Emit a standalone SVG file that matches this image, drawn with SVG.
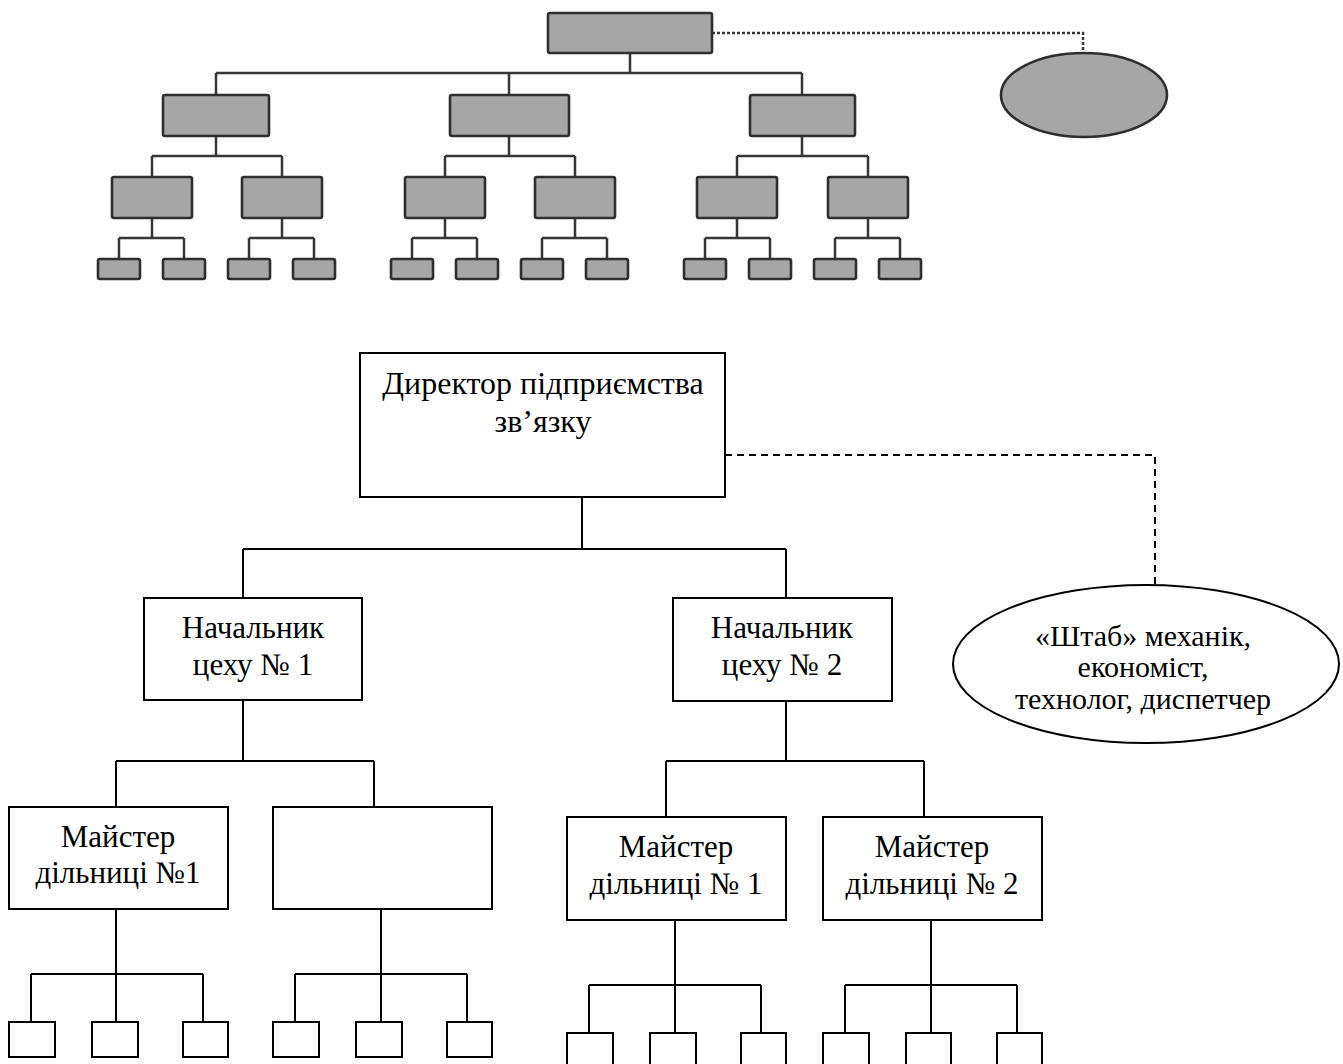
<svg xmlns="http://www.w3.org/2000/svg" width="1343" height="1064" viewBox="0 0 1343 1064">
  <style>
    .gbox { fill: #a6a6a6; stroke: #2e2e2e; stroke-width: 2.6; }
    .gline { fill: none; stroke: #363636; stroke-width: 2.5; }
    .gdot { fill: none; stroke: #363636; stroke-width: 2.5; stroke-dasharray: 3 2; }
    .box { fill: #ffffff; stroke: #000000; stroke-width: 2; }
    .line { fill: none; stroke: #000000; stroke-width: 2; }
    .dash { fill: none; stroke: #000000; stroke-width: 2; stroke-dasharray: 7 5; }
    .lbl { font-family: "Liberation Serif", "Times New Roman", serif; font-size: 31px; fill: #000000; text-anchor: middle; }
    .lg { font-size: 32px; }
    .sm { font-size: 30px; }
  </style>
  <rect width="1343" height="1064" fill="#ffffff"/>

  <!-- Upper schematic: generic line-and-staff structure -->
  <g id="schema-connectors">
    <path class="gline" d="M630,53 V73 M216,73 H802 M216,73 V95 M509,73 V95 M802,73 V95"/>
    <path class="gline" d="M216,136 V156 M152,156 H282 M152,156 V177 M282,156 V177"/>
    <path class="gline" d="M509,136 V156 M445,156 H575 M445,156 V177 M575,156 V177"/>
    <path class="gline" d="M802,136 V156 M737,156 H868 M737,156 V177 M868,156 V177"/>
    <path class="gline" d="M152,218 V238 M119,238 H184 M119,238 V259 M184,238 V259"/>
    <path class="gline" d="M282,218 V238 M249,238 H314 M249,238 V259 M314,238 V259"/>
    <path class="gline" d="M445,218 V238 M412,238 H477 M412,238 V259 M477,238 V259"/>
    <path class="gline" d="M575,218 V238 M542,238 H607 M542,238 V259 M607,238 V259"/>
    <path class="gline" d="M737,218 V238 M705,238 H770 M705,238 V259 M770,238 V259"/>
    <path class="gline" d="M868,218 V238 M835,238 H900 M835,238 V259 M900,238 V259"/>
    <path class="gdot" d="M712,33 H1083 V53"/>
  </g>
  <g id="schema-head"><rect class="gbox" x="548" y="13" width="164" height="40" rx="2"/></g>
  <g id="schema-staff"><ellipse class="gbox" cx="1084" cy="95" rx="83" ry="42"/></g>
  <g id="schema-level2">
    <rect class="gbox" x="163" y="95" width="106" height="41" rx="2"/>
    <rect class="gbox" x="450" y="95" width="119" height="41" rx="2"/>
    <rect class="gbox" x="750" y="95" width="105" height="41" rx="2"/>
  </g>
  <g id="schema-level3">
    <rect class="gbox" x="112" y="177" width="80" height="41" rx="2"/>
    <rect class="gbox" x="242" y="177" width="80" height="41" rx="2"/>
    <rect class="gbox" x="405" y="177" width="80" height="41" rx="2"/>
    <rect class="gbox" x="535" y="177" width="80" height="41" rx="2"/>
    <rect class="gbox" x="697" y="177" width="80" height="41" rx="2"/>
    <rect class="gbox" x="828" y="177" width="80" height="41" rx="2"/>
  </g>
  <g id="schema-level4">
    <rect class="gbox" x="98" y="259" width="42" height="20" rx="2"/>
    <rect class="gbox" x="163" y="259" width="42" height="20" rx="2"/>
    <rect class="gbox" x="228" y="259" width="42" height="20" rx="2"/>
    <rect class="gbox" x="293" y="259" width="42" height="20" rx="2"/>
    <rect class="gbox" x="391" y="259" width="42" height="20" rx="2"/>
    <rect class="gbox" x="456" y="259" width="42" height="20" rx="2"/>
    <rect class="gbox" x="521" y="259" width="42" height="20" rx="2"/>
    <rect class="gbox" x="586" y="259" width="42" height="20" rx="2"/>
    <rect class="gbox" x="684" y="259" width="42" height="20" rx="2"/>
    <rect class="gbox" x="749" y="259" width="42" height="20" rx="2"/>
    <rect class="gbox" x="814" y="259" width="42" height="20" rx="2"/>
    <rect class="gbox" x="879" y="259" width="42" height="20" rx="2"/>
  </g>

  <!-- Lower chart: communications enterprise -->
  <g id="connectors">
    <path class="line" d="M582,497 V549 M243,549 H786 M243,549 V598 M786,549 V598"/>
    <path class="line" d="M243,700 V761 M116,761 H374 M116,761 V807 M374,761 V807"/>
    <path class="line" d="M786,701 V761 M666,761 H924 M666,761 V817 M924,761 V817"/>
    <path class="line" d="M116,909 V974 M31,974 H203 M31,974 V1022 M116,974 V1022 M203,974 V1022"/>
    <path class="line" d="M381,909 V974 M295,974 H467 M295,974 V1022 M381,974 V1022 M467,974 V1022"/>
    <path class="line" d="M675,920 V985 M589,985 H761 M589,985 V1033 M675,985 V1033 M761,985 V1033"/>
    <path class="line" d="M931,920 V985 M845,985 H1017 M845,985 V1033 M931,985 V1033 M1017,985 V1033"/>
    <path class="dash" d="M725,455 H1155 V586"/>
  </g>

  <g id="director">
    <rect class="box" x="360" y="353" width="365" height="144"/>
    <text class="lbl lg" x="543" y="394">Директор підприємства</text>
    <text class="lbl lg" x="543" y="432">зв’язку</text>
  </g>
  <g id="staff">
    <ellipse class="box" cx="1146" cy="664" rx="193" ry="79"/>
    <text class="lbl sm" x="1143" y="646">«Штаб» механік,</text>
    <text class="lbl sm" x="1143" y="677">економіст,</text>
    <text class="lbl sm" x="1143" y="709">технолог, диспетчер</text>
  </g>
  <g id="shop-1">
    <rect class="box" x="144" y="598" width="218" height="102"/>
    <text class="lbl" x="253" y="638">Начальник</text>
    <text class="lbl" x="253" y="675">цеху № 1</text>
  </g>
  <g id="shop-2">
    <rect class="box" x="673" y="598" width="219" height="103"/>
    <text class="lbl" x="782" y="638">Начальник</text>
    <text class="lbl" x="782" y="675">цеху № 2</text>
  </g>
  <g id="foreman-1-1">
    <rect class="box" x="9" y="807" width="219" height="102"/>
    <text class="lbl" x="118" y="847">Майстер</text>
    <text class="lbl" x="118" y="883">дільниці №1</text>
  </g>
  <g id="foreman-1-2">
    <rect class="box" x="273" y="807" width="219" height="102"/>
  </g>
  <g id="foreman-2-1">
    <rect class="box" x="567" y="817" width="219" height="103"/>
    <text class="lbl" x="676" y="857">Майстер</text>
    <text class="lbl" x="676" y="894">дільниці № 1</text>
  </g>
  <g id="foreman-2-2">
    <rect class="box" x="823" y="817" width="219" height="103"/>
    <text class="lbl" x="932" y="857">Майстер</text>
    <text class="lbl" x="932" y="894">дільниці № 2</text>
  </g>
  <g id="workers">
    <rect class="box" x="9" y="1022" width="46" height="35"/>
    <rect class="box" x="92" y="1022" width="46" height="35"/>
    <rect class="box" x="183" y="1022" width="45" height="35"/>
    <rect class="box" x="273" y="1022" width="46" height="35"/>
    <rect class="box" x="356" y="1022" width="46" height="35"/>
    <rect class="box" x="447" y="1022" width="45" height="35"/>
    <rect class="box" x="567" y="1033" width="46" height="40"/>
    <rect class="box" x="650" y="1033" width="46" height="40"/>
    <rect class="box" x="741" y="1033" width="45" height="40"/>
    <rect class="box" x="823" y="1033" width="46" height="40"/>
    <rect class="box" x="906" y="1033" width="45" height="40"/>
    <rect class="box" x="997" y="1033" width="45" height="40"/>
  </g>
</svg>
